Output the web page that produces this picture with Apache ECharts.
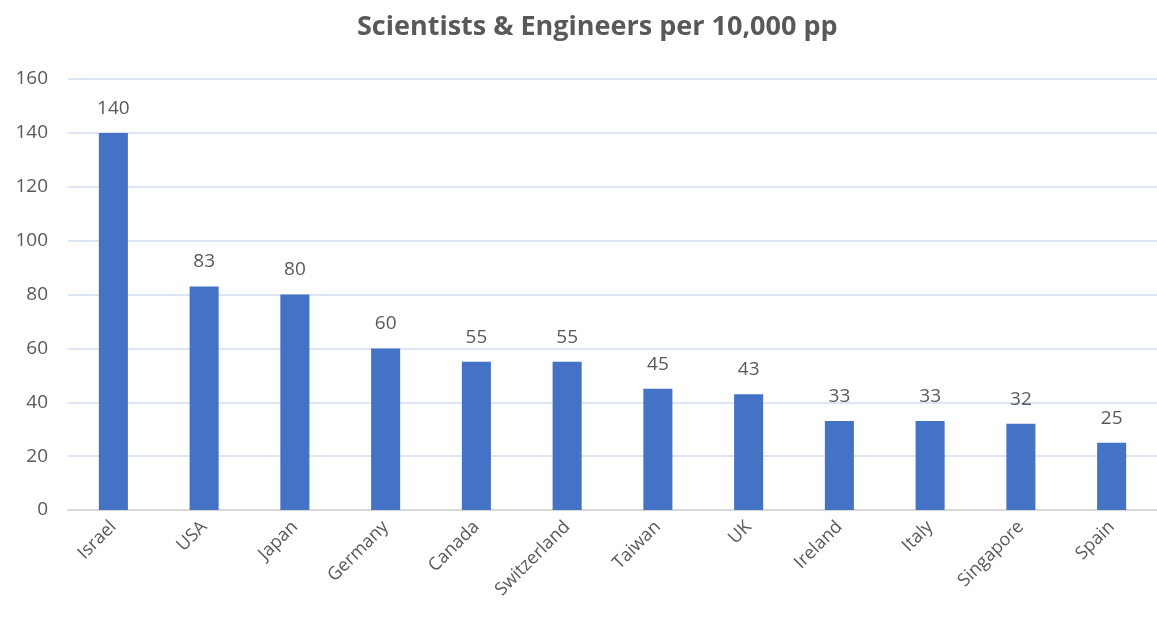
<!DOCTYPE html>
<html>
<head>
<meta charset="utf-8">
<script src="https://cdn.jsdelivr.net/npm/echarts@6/dist/echarts.min.js"></script>
<style>
  html, body { margin: 0; padding: 0; background: #fff; }
  #main { width: 1157px; height: 619px; }
</style>
</head>
<body>
<div id="main"></div>
<script>
const countries = ['Israel', 'USA', 'Japan', 'Germany', 'Canada', 'Switzerland', 'Taiwan', 'UK', 'Ireland', 'Italy', 'Singapore', 'Spain']
const perTenThousand = [140, 83, 80, 60, 55, 55, 45, 43, 33, 33, 32, 25]

const chart = echarts.init(document.getElementById('main'))
const font = '"Open Sans", "Liberation Sans", sans-serif'

const option = {
  animation: false,
  title: {
    text: 'Scientists & Engineers per 10,000 pp',
    left: 352,
    top: 9,
    textStyle: { fontFamily: font, fontSize: 27, fontWeight: 'bold', color: '#595959' }
  },
  grid: { left: 68, right: 0, top: 79, bottom: 109 },
  xAxis: {
    type: 'category',
    data: countries,
    axisLine: { lineStyle: { color: '#d9d9d9', width: 2 } },
    axisTick: { show: false },
    axisLabel: { rotate: 45, color: '#595959', fontFamily: font, fontSize: 18, margin: 14, interval: 0 }
  },
  yAxis: {
    type: 'value',
    min: 0,
    max: 160,
    interval: 20,
    axisLine: { show: false },
    axisTick: { show: false },
    axisLabel: { color: '#595959', fontFamily: font, fontSize: 19, margin: 20 },
    splitLine: { lineStyle: { color: '#d3dcf0', width: 1.5 } }
  },
  series: [{
    type: 'bar',
    data: perTenThousand,
    barWidth: '32%',
    itemStyle: { color: '#4472c4' },
    label: { show: true, position: 'top', distance: 15, color: '#595959', fontFamily: font, fontSize: 19 }
  }]
}

chart.setOption(option)
</script>
</body>
</html>
